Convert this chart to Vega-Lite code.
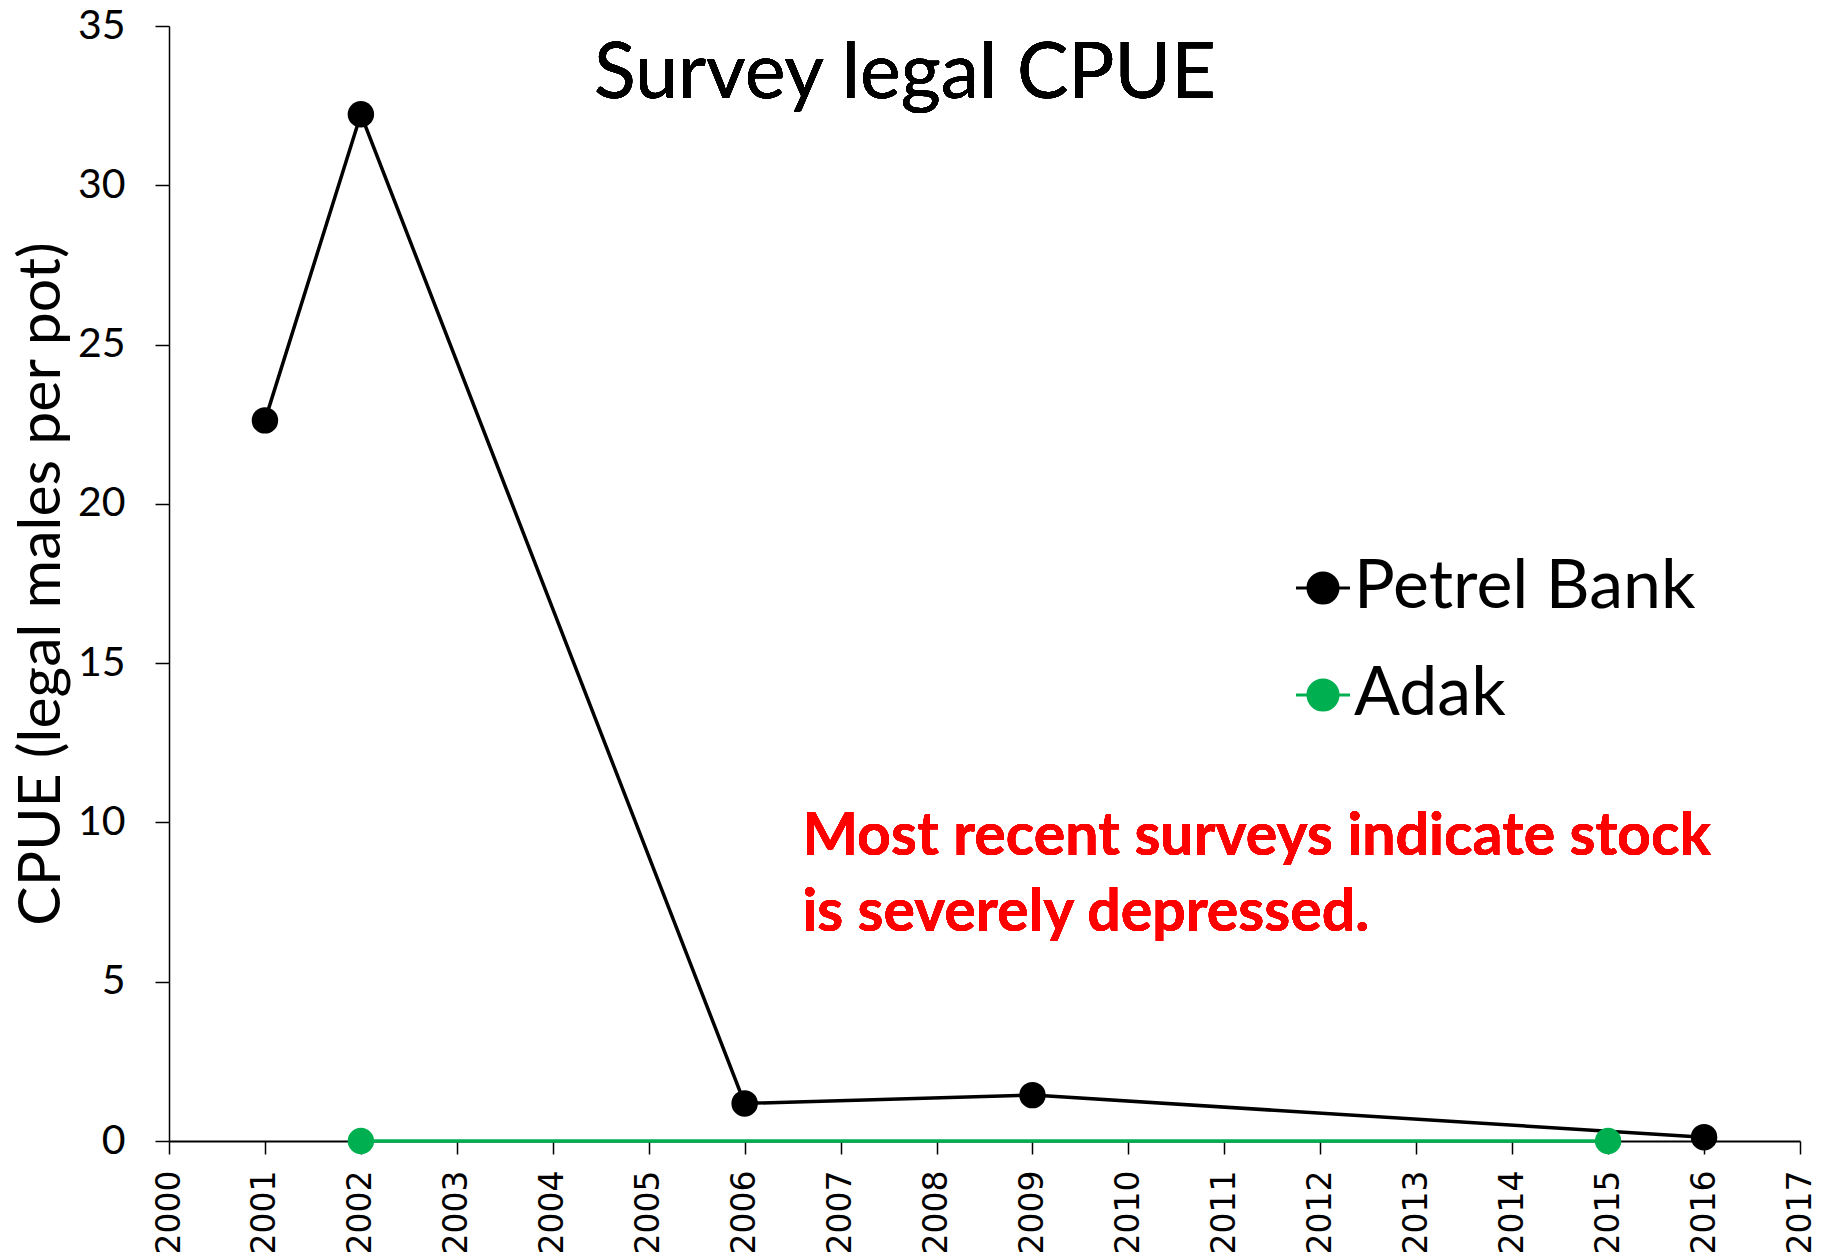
{
  "$schema": "https://vega.github.io/schema/vega-lite/v6.json",
  "width": 1631,
  "height": 1115,
  "autosize": {"type": "none"},
  "padding": {"left": 169, "top": 26, "right": 31, "bottom": 117},
  "background": "white",
  "config": {"view": {"stroke": null}},
  "data": {"values": [
    {"series": "Petrel Bank", "year": 2001, "cpue": 22.62},
    {"series": "Petrel Bank", "year": 2002, "cpue": 32.23},
    {"series": "Petrel Bank", "year": 2006, "cpue": 1.18},
    {"series": "Petrel Bank", "year": 2009, "cpue": 1.44},
    {"series": "Petrel Bank", "year": 2016, "cpue": 0.12},
    {"series": "Adak", "year": 2002, "cpue": 0},
    {"series": "Adak", "year": 2015, "cpue": 0}
  ]},
  "encoding": {
    "x": {"field": "year", "type": "quantitative",
      "scale": {"domain": [2000, 2017], "nice": false, "zero": false},
      "axis": {"title": null, "values": [2000,2001,2002,2003,2004,2005,2006,2007,2008,2009,2010,2011,2012,2013,2014,2015,2016,2017],
        "format": "d", "labelAngle": -90, "labelFont": "DejaVu Sans", "labelFontSize": 33, "labelColor": "#000000",
        "labelPadding": 16, "tickSize": 13, "tickColor": "#000000", "tickWidth": 1.5,
        "domainColor": "#000000", "domainWidth": 2, "grid": false, "labelOverlap": false, "labelFlush": false}},
    "y": {"field": "cpue", "type": "quantitative",
      "scale": {"domain": [0, 35], "nice": false},
      "axis": {"title": "CPUE (legal males per pot)", "values": [0,5,10,15,20,25,30,35],
        "labelFont": "Lato", "labelFontSize": 41, "labelColor": "#000000", "labelPadding": 30,
        "tickSize": 14, "tickColor": "#000000", "tickWidth": 1.5,
        "domainColor": "#000000", "domainWidth": 1.5, "grid": false,
        "titleFont": "Lato", "titleFontSize": 59, "titleFontWeight": "normal", "titleColor": "#000000", "titlePadding": 6,
        "labelFlush": false}},
    "color": {"field": "series", "type": "nominal",
      "scale": {"domain": ["Petrel Bank", "Adak"], "range": ["#000000", "#00B050"]},
      "legend": {"orient": "none", "legendX": 1120, "legendY": 528, "title": null, "padding": 0,
        "symbolType": "M-1,0L1,0M-0.556,0A0.556,0.556,0,1,1,0.556,0A0.556,0.556,0,1,1,-0.556,0Z",
        "symbolSize": 2916, "symbolStrokeWidth": 3, "labelFont": "Lato", "labelFontSize": 68,
        "labelColor": "#000000", "labelOffset": -3, "rowPadding": 39, "labelLimit": 600,
        "encode": {"symbols": {"update": {"fill": {"scale": "color", "field": "value"}, "stroke": {"scale": "color", "field": "value"}, "opacity": {"value": 1}}}}}}
  },
  "layer": [
    {"mark": {"type": "line", "strokeWidth": 3.5}},
    {"mark": {"type": "point", "filled": true, "size": 700, "opacity": 1, "shape": "circle"}},
    {"mark": {"type": "text", "font": "Lato", "fontSize": 77, "align": "center", "baseline": "alphabetic", "color": "#000000", "text": "Survey legal CPUE"},
      "encoding": {"x": {"datum": 2007.67}, "y": {"datum": 32.73}, "color": {"value": "#000000"}}},
    {"mark": {"type": "text", "font": "Lato", "fontSize": 59, "fontWeight": "bold", "align": "left", "baseline": "alphabetic", "lineHeight": 76, "color": "#FF0000",
      "text": ["Most recent surveys indicate stock", "is severely depressed."]},
      "encoding": {"x": {"datum": 2006.6}, "y": {"datum": 8.98}, "color": {"value": "#FF0000"}}}
  ]
}
